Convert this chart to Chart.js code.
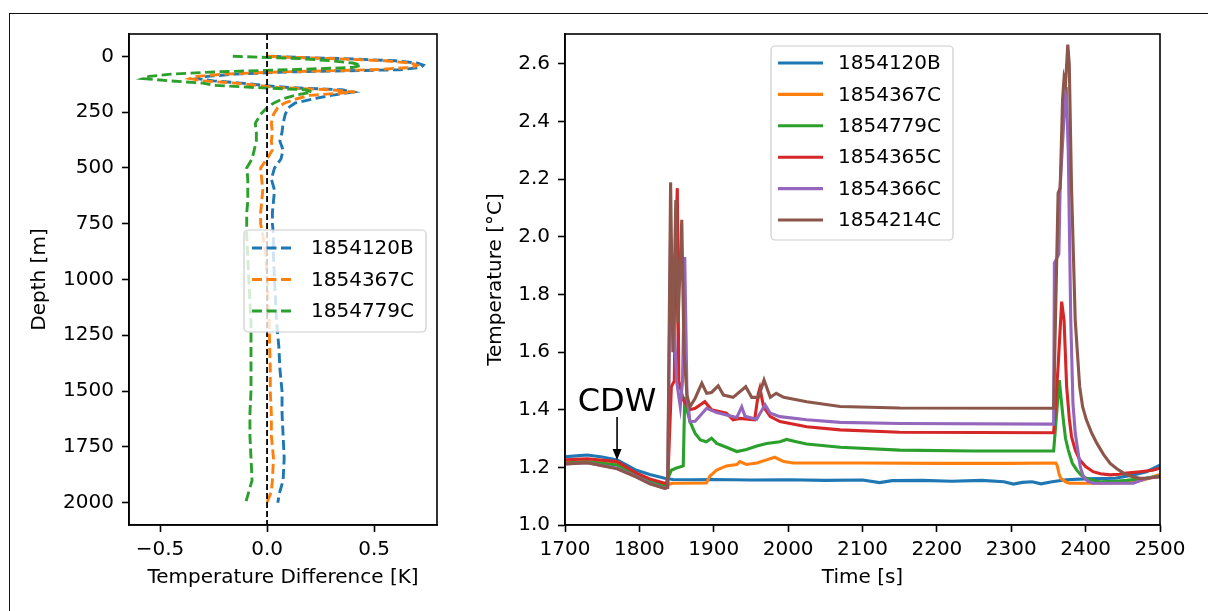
<!DOCTYPE html>
<html>
<head>
<meta charset="utf-8">
<script src="https://cdn.jsdelivr.net/npm/chart.js@4.4.1/dist/chart.umd.min.js"></script>
<style>
  html, body { margin: 0; padding: 0; background: #fff; }
  body { width: 1208px; height: 611px; position: relative; overflow: hidden; }
  #frame { position: absolute; left: 9px; top: 13px; width: 1220px; height: 620px;
           border-top: 1.5px solid #111; border-left: 1.5px solid #111; }
  #profile { position: absolute; left: 0; top: 0; }
  #series { position: absolute; left: 460px; top: 0; }
</style>
</head>
<body>
<div id="frame"></div>
<canvas id="profile" width="460" height="611"></canvas>
<canvas id="series" width="748" height="611"></canvas>
<script>
// ---- left panel: temperature difference profiles ----
const depthLevels = [0, 5, 10, 20, 30, 40, 50, 60, 70, 80, 90, 100, 110, 120, 130, 140, 150, 160, 175, 190, 210, 230, 260, 300, 340, 380, 420, 460, 500, 550, 600, 650, 700, 750, 800, 900, 1000, 1100, 1200, 1300, 1400, 1500, 1600, 1700, 1800, 1900, 1950, 2000];
const diff1854120B = [0.02, 0.15, 0.35, 0.6, 0.7, 0.73, 0.72, 0.62, 0.1, -0.15, -0.28, -0.33, -0.25, -0.12, -0.02, 0.1, 0.35, 0.4, 0.3, 0.22, 0.13, 0.1, 0.085, 0.075, 0.07, 0.06, 0.075, 0.065, 0.035, 0.02, 0.035, 0.03, 0.025, 0.025, 0.03, 0.03, 0.035, 0.04, 0.045, 0.055, 0.06, 0.07, 0.07, 0.075, 0.08, 0.075, 0.06, 0.05];
const diff1854367C = [0.0, 0.12, 0.3, 0.55, 0.67, 0.7, 0.68, 0.5, 0.05, -0.2, -0.33, -0.36, -0.3, -0.15, -0.05, 0.05, 0.3, 0.41, 0.2, 0.14, 0.08, 0.05, 0.03, 0.02, 0.025, 0.02, 0.025, 0.0, -0.03, -0.025, -0.02, -0.025, -0.03, -0.03, -0.02, -0.005, 0.0, 0.005, 0.01, 0.012, 0.015, 0.015, 0.02, 0.02, 0.03, 0.025, 0.02, 0.0];
const diff1854779C = [-0.16, 0.0, 0.15, 0.3, 0.4, 0.44, 0.4, 0.1, -0.25, -0.45, -0.55, -0.58, -0.45, -0.3, -0.25, -0.05, 0.18, 0.21, 0.13, 0.075, 0.03, 0.0, -0.03, -0.055, -0.05, -0.05, -0.06, -0.07, -0.095, -0.09, -0.09, -0.09, -0.095, -0.095, -0.095, -0.09, -0.085, -0.08, -0.075, -0.075, -0.075, -0.075, -0.08, -0.08, -0.075, -0.07, -0.085, -0.1];
const depthTicks = [0, 250, 500, 750, 1000, 1250, 1500, 1750, 2000];
const diffTicks = [-0.5, 0.0, 0.5];
const zeroDiff = 0;

// ---- right panel: temperature time series ----
const time1854120B = [1700, 1715, 1730, 1750, 1770, 1785, 1796, 1814, 1834, 1845, 1870, 1900, 1950, 2000, 2050, 2100, 2123, 2140, 2180, 2220, 2260, 2290, 2303, 2315, 2328, 2340, 2355, 2374, 2400, 2440, 2464, 2482, 2500];
const temp1854120B = [1.237, 1.24, 1.243, 1.236, 1.226, 1.205, 1.19, 1.175, 1.162, 1.158, 1.157, 1.158, 1.156, 1.157, 1.155, 1.156, 1.147, 1.154, 1.155, 1.152, 1.155, 1.15, 1.142, 1.148, 1.15, 1.143, 1.15, 1.157, 1.16, 1.162, 1.174, 1.185, 1.208];
const time1854367C = [1700, 1730, 1770, 1796, 1814, 1834, 1840, 1845, 1890, 1895, 1904, 1917, 1931, 1935, 1944, 1958, 1971, 1982, 1994, 2007, 2100, 2200, 2300, 2360, 2362, 2364, 2366, 2369, 2373, 2378, 2420, 2460, 2480, 2500];
const temp1854367C = [1.222, 1.226, 1.216, 1.178, 1.158, 1.143, 1.142, 1.145, 1.146, 1.17, 1.191, 1.205, 1.21, 1.22, 1.21, 1.215, 1.226, 1.235, 1.22, 1.215, 1.215, 1.214, 1.214, 1.215, 1.205, 1.18, 1.165, 1.157, 1.15, 1.145, 1.145, 1.147, 1.158, 1.175];
const time1854779C = [1700, 1730, 1770, 1796, 1814, 1834, 1843, 1850, 1859, 1861, 1864, 1868, 1875, 1882, 1890, 1897, 1904, 1917, 1931, 1944, 1958, 1971, 1989, 1998, 2011, 2025, 2070, 2150, 2250, 2357, 2364.6, 2367, 2370, 2373, 2376.7, 2382, 2388, 2394, 2401, 2410, 2419, 2440, 2455, 2480, 2500];
const temp1854779C = [1.215, 1.219, 1.208, 1.175, 1.152, 1.135, 1.19, 1.198, 1.205, 1.445, 1.40, 1.359, 1.318, 1.295, 1.289, 1.301, 1.283, 1.27, 1.255, 1.262, 1.274, 1.283, 1.289, 1.297, 1.289, 1.281, 1.27, 1.26, 1.257, 1.257, 1.503, 1.44, 1.365, 1.30, 1.26, 1.215, 1.191, 1.173, 1.162, 1.155, 1.15, 1.152, 1.155, 1.162, 1.17];
const time1854365C = [1700, 1730, 1770, 1796, 1814, 1834, 1838, 1843, 1847, 1849, 1851, 1853, 1859, 1868, 1875, 1888, 1897, 1917, 1926, 1935, 1955, 1960, 1962, 1967, 1976, 1989, 2025, 2070, 2150, 2357, 2363, 2367.8, 2371, 2374.5, 2378, 2381, 2386, 2392, 2400, 2410, 2420, 2433, 2445, 2455, 2473, 2490, 2500];
const temp1854365C = [1.226, 1.23, 1.22, 1.18, 1.16, 1.145, 1.14, 1.48, 1.5, 2.0, 2.169, 1.5, 1.434, 1.40, 1.405, 1.428, 1.40, 1.388, 1.365, 1.37, 1.365, 1.457, 1.475, 1.41, 1.376, 1.359, 1.341, 1.33, 1.322, 1.32, 1.55, 1.775, 1.71, 1.48, 1.37, 1.307, 1.26, 1.226, 1.203, 1.185, 1.178, 1.174, 1.176, 1.18, 1.185, 1.19, 1.197];
const time1854366C = [1700, 1730, 1770, 1796, 1814, 1834, 1838, 1842, 1850, 1855, 1858, 1861, 1864, 1868, 1875, 1890.5, 1904, 1917, 1931, 1937.6, 1942, 1957.7, 1969, 1976, 1989, 2025, 2070, 2150, 2357, 2358, 2364, 2365.7, 2372, 2374, 2376.7, 2380, 2383, 2386, 2390, 2393, 2397, 2403, 2410, 2464, 2482, 2500];
const temp1854366C = [1.212, 1.216, 1.197, 1.168, 1.145, 1.128, 1.13, 2.0, 1.5, 1.41, 1.5, 1.93, 1.45, 1.359, 1.36, 1.405, 1.39, 1.382, 1.373, 1.41, 1.377, 1.367, 1.417, 1.388, 1.376, 1.365, 1.356, 1.352, 1.35, 1.909, 1.94, 2.17, 2.465, 2.52, 2.29, 1.712, 1.42, 1.32, 1.25, 1.2, 1.168, 1.152, 1.145, 1.145, 1.162, 1.168];
const time1854214C = [1700, 1730, 1770, 1796, 1814, 1834, 1838, 1842, 1845, 1849, 1852, 1857, 1860, 1864, 1868, 1875, 1884, 1890.5, 1897, 1906, 1913, 1926, 1943, 1951, 1960, 1967.6, 1976, 1984, 1994, 2025, 2070, 2150, 2357, 2363, 2365.8, 2369, 2371, 2373, 2376, 2378, 2381, 2386, 2392, 2396, 2401, 2408, 2415, 2424, 2433, 2442, 2451, 2462, 2473, 2485, 2500];
const temp1854214C = [1.212, 1.216, 1.195, 1.166, 1.143, 1.127, 1.13, 2.189, 1.6, 2.128, 1.7, 2.059, 1.6, 1.45, 1.41, 1.44, 1.492, 1.457, 1.46, 1.483, 1.451, 1.443, 1.48, 1.443, 1.443, 1.503, 1.443, 1.457, 1.443, 1.428, 1.411, 1.406, 1.405, 2.152, 2.17, 2.476, 2.551, 2.53, 2.667, 2.60, 2.175, 1.712, 1.48, 1.41, 1.365, 1.32, 1.284, 1.245, 1.214, 1.195, 1.18, 1.168, 1.162, 1.163, 1.168];
const timeTicks = [1700, 1800, 1900, 2000, 2100, 2200, 2300, 2400, 2500];
const tempTicks = [1.0, 1.2, 1.4, 1.6, 1.8, 2.0, 2.2, 2.4, 2.6];

// CDW annotation (data coordinates)
const cdwTime = 1770;
const cdwTextTemp = 1.396;
const cdwArrowFrom = 1.375;
const cdwArrowTo = 1.226;

const colors = ["#1f77b4", "#ff7f0e", "#2ca02c", "#d62728", "#9467bd", "#8c564b"];

Chart.defaults.font.family = "'DejaVu Sans'";
Chart.defaults.font.size = 20;
Chart.defaults.color = "#000";

// box around the plot area (matplotlib spines)
const frameBox = {
  id: "frameBox",
  afterDraw(chart) {
    const { ctx, chartArea: a } = chart;
    ctx.save();
    ctx.strokeStyle = "#000";
    ctx.lineWidth = 1.6;
    ctx.strokeRect(a.left, a.top, a.right - a.left, a.bottom - a.top);
    ctx.restore();
  },
};

// legend drawn inside the axes like matplotlib
const boxLegend = {
  id: "boxLegend",
  afterDraw(chart, args, o) {
    const ctx = chart.ctx;
    ctx.save();
    ctx.beginPath();
    ctx.roundRect(o.x, o.y, o.w, o.h, 4);
    ctx.fillStyle = "rgba(255,255,255,0.8)";
    ctx.fill();
    ctx.strokeStyle = "#cccccc";
    ctx.lineWidth = 1.2;
    ctx.stroke();
    ctx.font = "20px 'DejaVu Sans'";
    ctx.textBaseline = "middle";
    chart.data.datasets.forEach((ds, i) => {
      const y = o.y + o.first + i * o.step;
      ctx.beginPath();
      ctx.setLineDash(ds.borderDash || []);
      ctx.strokeStyle = ds.borderColor;
      ctx.lineWidth = ds.borderWidth;
      ctx.moveTo(o.x + o.sx, y);
      ctx.lineTo(o.x + o.sx + o.sw, y);
      ctx.stroke();
      ctx.setLineDash([]);
      ctx.fillStyle = "#000";
      ctx.fillText(ds.label, o.x + o.tx, y + 1);
    });
    ctx.restore();
  },
};

// dashed vertical line at zero difference
const zeroLine = {
  id: "zeroLine",
  afterDatasetsDraw(chart) {
    const { ctx, chartArea: a, scales } = chart;
    const px = scales.x.getPixelForValue(zeroDiff);
    ctx.save();
    ctx.strokeStyle = "#000";
    ctx.lineWidth = 1.8;
    ctx.setLineDash([6, 3]);
    ctx.beginPath();
    ctx.moveTo(px, a.top);
    ctx.lineTo(px, a.bottom);
    ctx.stroke();
    ctx.restore();
  },
};

// "CDW" label with arrow
const cdwNote = {
  id: "cdwNote",
  afterDatasetsDraw(chart) {
    const { ctx, scales } = chart;
    const px = scales.x.getPixelForValue(cdwTime);
    const yText = scales.y.getPixelForValue(cdwTextTemp);
    const y0 = scales.y.getPixelForValue(cdwArrowFrom);
    const y1 = scales.y.getPixelForValue(cdwArrowTo);
    ctx.save();
    ctx.fillStyle = "#000";
    ctx.strokeStyle = "#000";
    ctx.font = "32px 'DejaVu Sans'";
    ctx.textAlign = "center";
    ctx.textBaseline = "alphabetic";
    ctx.fillText("CDW", px, yText);
    ctx.lineWidth = 1.6;
    ctx.beginPath();
    ctx.moveTo(px, y0);
    ctx.lineTo(px, y1 - 8);
    ctx.stroke();
    ctx.beginPath();
    ctx.moveTo(px, y1);
    ctx.lineTo(px - 4.5, y1 - 11);
    ctx.lineTo(px + 4.5, y1 - 11);
    ctx.closePath();
    ctx.fill();
    ctx.restore();
  },
};

function axisStyle() {
  return {
    grid: { drawOnChartArea: false, drawTicks: true, tickLength: 7, tickWidth: 1.6, tickColor: "#000" },
    border: { display: true, color: "#000", width: 1.6 },
  };
}

function profileSet(label, values, idx) {
  return {
    label: label,
    data: values.map((v, i) => ({ x: v, y: depthLevels[i] })),
    borderColor: colors[idx],
    borderWidth: 2.9,
    borderDash: [10, 4.5],
    showLine: true,
    pointRadius: 0,
    fill: false,
    order: 3 - idx,
  };
}

function seriesSet(label, times, temps, idx) {
  return {
    label: label,
    data: times.map((t, i) => ({ x: t, y: temps[i] })),
    borderColor: colors[idx],
    borderWidth: 3.1,
    showLine: true,
    pointRadius: 0,
    fill: false,
    order: 6 - idx,
  };
}

new Chart(document.getElementById("profile"), {
  type: "scatter",
  data: {
    datasets: [
      profileSet("1854120B", diff1854120B, 0),
      profileSet("1854367C", diff1854367C, 1),
      profileSet("1854779C", diff1854779C, 2),
    ],
  },
  plugins: [frameBox, zeroLine, boxLegend],
  options: {
    responsive: false,
    animation: false,
    layout: { padding: { left: 0, top: 34, right: 23, bottom: 0 } },
    plugins: {
      legend: { display: false },
      tooltip: { enabled: false },
      boxLegend: { x: 244, y: 230, w: 182, h: 102, first: 18, step: 31.5, sx: 8, sw: 41, tx: 67 },
    },
    scales: {
      x: {
        type: "linear",
        min: -0.645,
        max: 0.794,
        ...axisStyle(),
        afterBuildTicks: (s) => { s.ticks = diffTicks.map((v) => ({ value: v })); },
        afterFit: (s) => { s.height = 86; },
        ticks: { padding: 6, maxRotation: 0, callback: (v) => v.toFixed(1).replace("-", "\u2212") },
        title: { display: true, text: "Temperature Difference [K]", padding: { top: 0, bottom: 21 } },
      },
      y: {
        type: "linear",
        reverse: true,
        min: -100,
        max: 2100,
        ...axisStyle(),
        afterBuildTicks: (s) => { s.ticks = depthTicks.map((v) => ({ value: v })); },
        afterFit: (s) => { s.width = 129; },
        ticks: { padding: 8, callback: (v) => String(v) },
        title: { display: true, text: "Depth [m]", padding: { top: 28, bottom: 0 } },
      },
    },
  },
});

new Chart(document.getElementById("series"), {
  type: "scatter",
  data: {
    datasets: [
      seriesSet("1854120B", time1854120B, temp1854120B, 0),
      seriesSet("1854367C", time1854367C, temp1854367C, 1),
      seriesSet("1854779C", time1854779C, temp1854779C, 2),
      seriesSet("1854365C", time1854365C, temp1854365C, 3),
      seriesSet("1854366C", time1854366C, temp1854366C, 4),
      seriesSet("1854214C", time1854214C, temp1854214C, 5),
    ],
  },
  plugins: [frameBox, cdwNote, boxLegend],
  options: {
    responsive: false,
    animation: false,
    layout: { padding: { left: 0, top: 34, right: 48, bottom: 0 } },
    plugins: {
      legend: { display: false },
      tooltip: { enabled: false },
      boxLegend: { x: 311, y: 46, w: 182, h: 194, first: 17, step: 31.4, sx: 7, sw: 45, tx: 67 },
    },
    scales: {
      x: {
        type: "linear",
        min: 1700,
        max: 2500,
        ...axisStyle(),
        afterBuildTicks: (s) => { s.ticks = timeTicks.map((v) => ({ value: v })); },
        afterFit: (s) => { s.height = 86; },
        ticks: { padding: 6, maxRotation: 0, callback: (v) => String(v) },
        title: { display: true, text: "Time [s]", padding: { top: 0, bottom: 21 } },
      },
      y: {
        type: "linear",
        min: 1.0,
        max: 2.704,
        ...axisStyle(),
        afterBuildTicks: (s) => { s.ticks = tempTicks.map((v) => ({ value: v })); },
        afterFit: (s) => { s.width = 105; },
        ticks: { padding: 8, callback: (v) => v.toFixed(1) },
        title: { display: true, text: "Temperature [°C]", padding: { top: 24, bottom: 0 } },
      },
    },
  },
});
</script>
</body>
</html>
